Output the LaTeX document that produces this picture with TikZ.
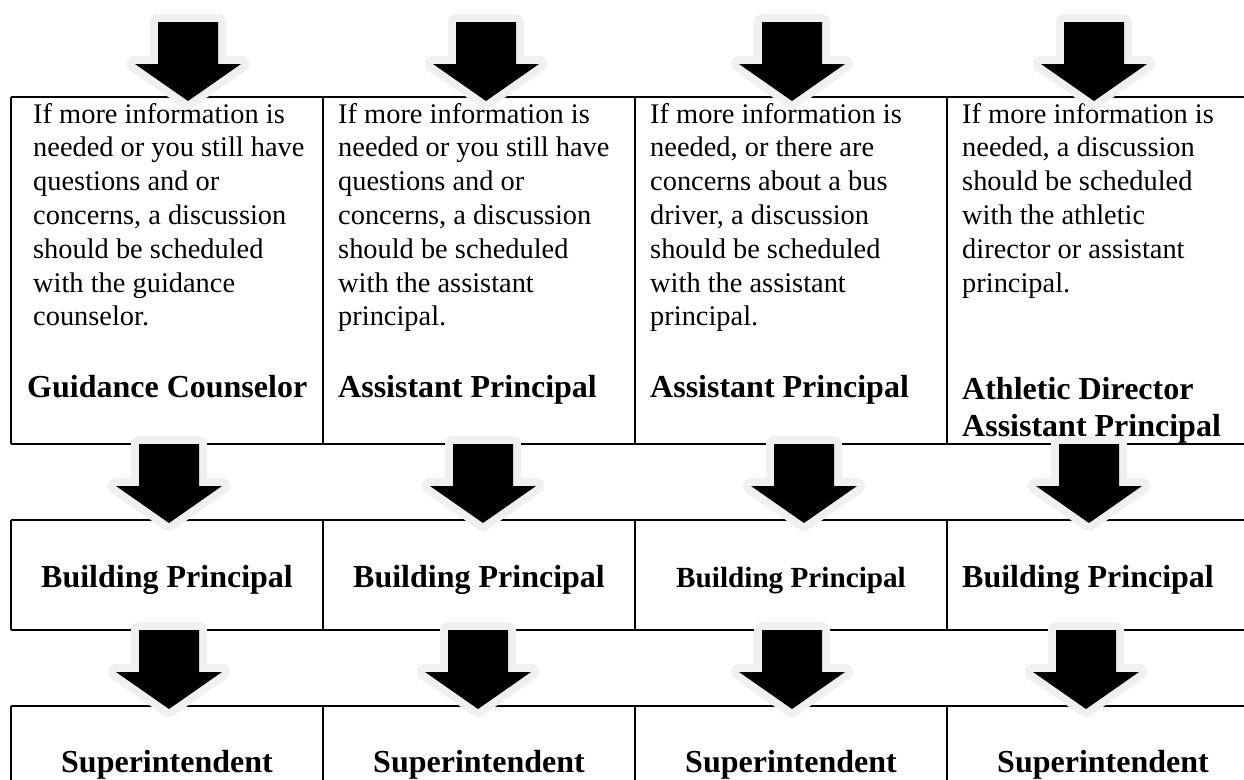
\documentclass[tikz,border=0pt]{standalone}
\usepackage{fontspec}
\setmainfont{Liberation Serif}
\usetikzlibrary{positioning}
\definecolor{halo-grey}{RGB}{240, 240, 240}
\newcommand{\bodyfont}{\fontsize{28.4}{33.8}\selectfont}
\newcommand{\rolefont}{\fontsize{32}{36.5}\selectfont\bfseries}
\tikzset{
  blockarrow/.pic={
    \fill[black, preaction={draw=halo-grey, line width=16pt, line join=round}]
      (-30,0) -- (30,0) -- (30,42) -- (53,42) -- (0,79) -- (-53,42) -- (-30,42) -- cycle;
  }
}

\begin{document}
\begin{tikzpicture}[x=1pt, y=-1pt,
    body/.style={anchor=base west, align=left, inner sep=0pt, font=\bodyfont},
    role/.style={anchor=base west, align=left, inner sep=0pt, font=\rolefont},
    office/.style={anchor=base, inner sep=0pt, font=\rolefont}]
  \useasboundingbox (0,0) rectangle (1244,779);
  \clip (0,0) rectangle (1244,779);
  % table rules
  \draw[line width=1.5pt]
    (11,97) -- (1260,97) (11,444) -- (1260,444)
    (11,520) -- (1260,520) (11,630) -- (1260,630)
    (11,706) -- (1260,706);
  \foreach \x in {11,323,635,947}
    \draw[line width=1.5pt] (\x,97) -- (\x,444) (\x,520) -- (\x,630) (\x,706) -- (\x,790);

  % first row (base = last line)
  \node[body] (info1) at (33,325.8) {If more information is\\needed or you still have\\questions and or\\concerns, a discussion\\should be scheduled\\with the guidance\\counselor.};
  \node[body] (info2) at (338,325.8) {If more information is\\needed or you still have\\questions and or\\concerns, a discussion\\should be scheduled\\with the assistant\\principal.};
  \node[body] (info3) at (650,325.8) {If more information is\\needed, or there are\\concerns about a bus\\driver, a discussion\\should be scheduled\\with the assistant\\principal.};
  \node[body] (info4) at (962,292) {If more information is\\needed, a discussion\\should be scheduled\\with the athletic\\director or assistant\\principal.};
  \node[role] (counselor) at (27,397) {Guidance Counselor};
  \node[role] (assistant2) at (338,397) {Assistant Principal};
  \node[role] (assistant3) at (650,397) {Assistant Principal};
  \node[role] (athletic) at (962,436) {Athletic Director\\Assistant Principal};

  % second row
  \node[office] (building1) at (167,587) {Building Principal};
  \node[office] (building2) at (479,587) {Building Principal};
  \node[office, font=\fontsize{29.2}{33}\selectfont\bfseries] (building3) at (791,587) {Building Principal};
  \node[role] (building4) at (962,587) {Building Principal};

  % third row
  \node[office] (super1) at (167,772) {Superintendent};
  \node[office] (super2) at (479,772) {Superintendent};
  \node[office] (super3) at (791,772) {Superintendent};
  \node[office] (super4) at (1103,772) {Superintendent};

  % block arrows
  \foreach \x [count=\n] in {188,486,792,1094} {
    \coordinate (top-\n) at (\x,22);
    \pic at (top-\n) {blockarrow};
  }
  \foreach \x [count=\n] in {169,483,804,1089} {
    \coordinate (mid-\n) at (\x,444);
    \pic at (mid-\n) {blockarrow};
  }
  \foreach \x [count=\n] in {169,478,792,1086} {
    \coordinate (low-\n) at (\x,630);
    \pic at (low-\n) {blockarrow};
  }
\end{tikzpicture}
\end{document}
